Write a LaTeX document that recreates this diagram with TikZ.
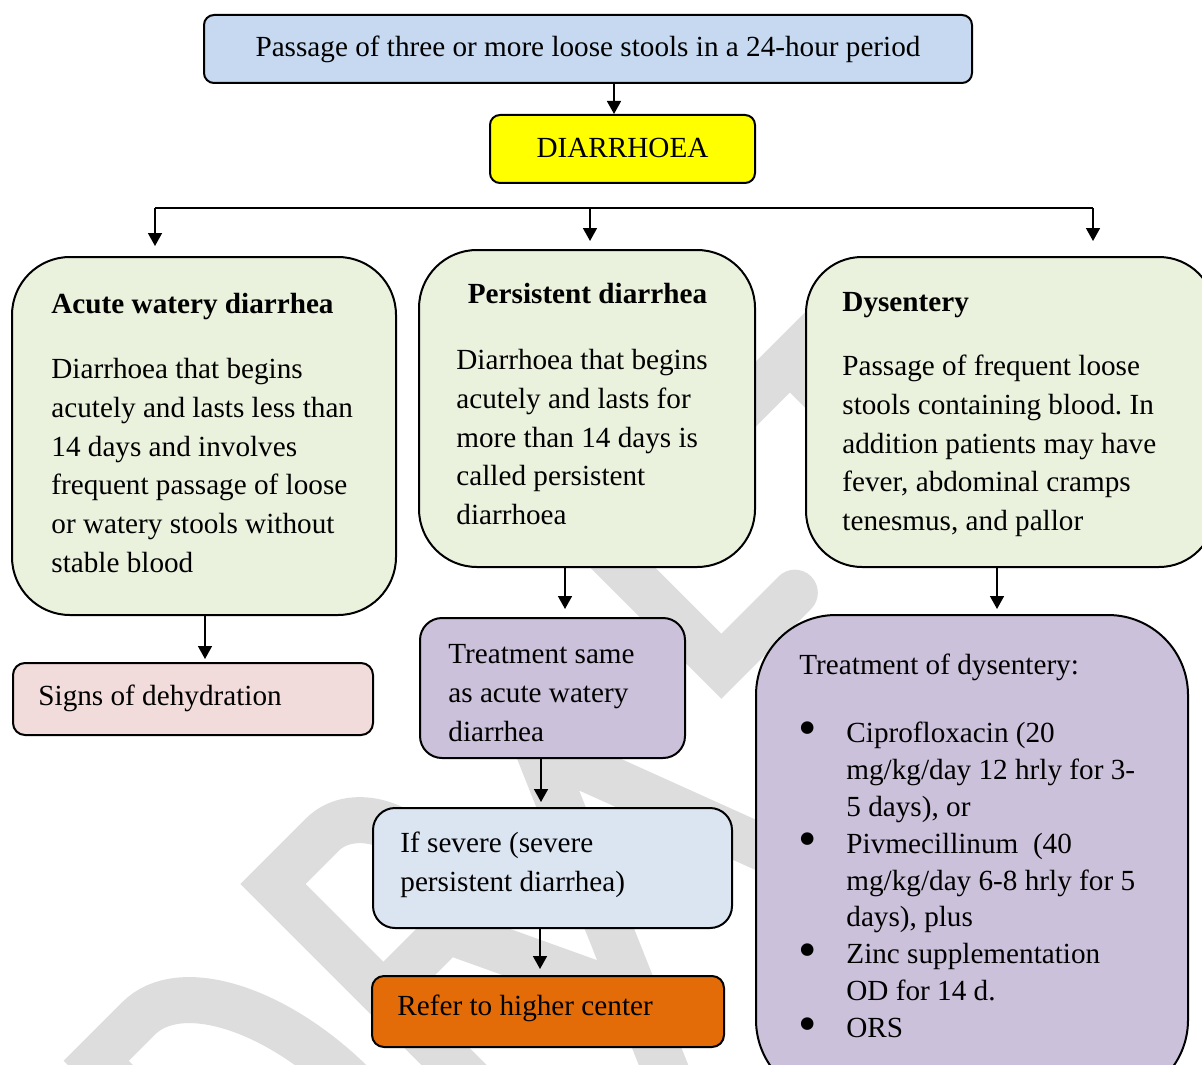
\documentclass[tikz,border=0pt]{standalone}
\usepackage{fontspec}
\setmainfont{Liberation Serif}
\usetikzlibrary{arrows.meta}
\frenchspacing

\definecolor{topblue}{HTML}{C6D9F1}
\definecolor{diaryellow}{HTML}{FFFF00}
\definecolor{olivebox}{HTML}{EAF1DD}
\definecolor{pinkbox}{HTML}{F2DCDB}
\definecolor{lilacbox}{HTML}{CCC1DA}
\definecolor{paleblue}{HTML}{DBE5F1}
\definecolor{orangebox}{HTML}{E36C09}
\definecolor{wmgray}{RGB}{221,221,221}

\newcommand{\rxbullet}{\makebox[24pt][l]{\raisebox{-0.12em}{\scalebox{1.8}{•}}}}
\newcommand{\rxhang}{\hspace*{24pt}}

\tikzset{
  box/.style={draw=black, line width=1pt, rectangle, inner sep=0pt},
  txt/.style={inner sep=0pt, anchor=north west, align=left,
              font=\fontsize{14.6}{19.4}\selectfont},
  line/.style={inner sep=0pt, font=\fontsize{14.6}{19.4}\selectfont},
  arr/.style={line width=0.8pt, -{Triangle[length=6.5pt,width=7pt]}},
  bus/.style={line width=0.8pt},
  wm/.style={draw=wmgray, line width=23pt, line join=miter, miter limit=10}
}

\begin{document}
\begin{tikzpicture}[x=0.5pt,y=-0.5pt]
\useasboundingbox (0,0) rectangle (1202,1064);
\clip (0,0) rectangle (1202,1064);
\fill[white] (0,0) rectangle (1202,1064);

% diagonal watermark strokes, drawn in a letter frame tilted by 45 degrees
\begin{scope}[shift={(273,884)}, x={(0.35355pt,0.35355pt)}, y={(0.35355pt,-0.35355pt)}]
  \draw[wm] (-250,430) -- (-250,0) -- (-190,0)
        .. controls (-132,0) and (-85,90) .. (-85,200)
        .. controls (-85,310) and (-132,400) .. (-190,400) -- (-250,400);
  \draw[wm] (0,430) -- (0,0) -- (70,0)
        .. controls (103,0) and (130,35) .. (130,78)
        .. controls (130,121) and (103,156) .. (70,156) -- (0,156);
  \draw[wm] (90,156) -- (205,400);
  \draw[wm] (137,430) -- (284,89) -- (413,430);
  \draw[wm, line cap=round] (471,-23) -- (471,163) -- (575,163);
  \draw[wm] (630,-5) -- (850,-5);
  \draw[wm] (736,-5) -- (736,150);
\end{scope}

% boxes
\node[box, fill=topblue, rounded corners=5pt, minimum width=384pt, minimum height=34pt] (top) at (588,49) {};
\node[box, fill=diaryellow, rounded corners=5pt, minimum width=132.5pt, minimum height=34pt] (diar) at (622.5,149) {};
\node[box, fill=olivebox, rounded corners=29pt, minimum width=192pt, minimum height=179pt] (acute) at (204,436) {};
\node[box, fill=olivebox, rounded corners=29pt, minimum width=168pt, minimum height=158.5pt] (persist) at (587,408.5) {};
\node[box, fill=olivebox, rounded corners=28pt, minimum width=204.5pt, minimum height=155pt] (dys) at (1010.5,412) {};
\node[box, fill=pinkbox, rounded corners=6pt, minimum width=180pt, minimum height=36pt] (signs) at (193,699) {};
\node[box, fill=lilacbox, rounded corners=11pt, minimum width=132.5pt, minimum height=70pt] (same) at (552.5,688) {};
\node[box, fill=paleblue, rounded corners=11pt, minimum width=179.5pt, minimum height=60pt] (severe) at (552.5,868) {};
\node[box, fill=orangebox, rounded corners=6pt, minimum width=176pt, minimum height=35.5pt] (refer) at (548,1011.5) {};
\node[box, fill=lilacbox, rounded corners=40pt, minimum width=216pt, minimum height=242.5pt] (dysrx) at (972,857.5) {};

% texts
\node[line, anchor=base] (ttop) at (588,57) {Passage of three or more loose stools in a 24-hour period};
\node[line, anchor=base] (tdiar) at (622.5,158) {DIARRHOEA};

\node[line, anchor=base west] (tacuteh) at (51,313) {\textbf{Acute watery diarrhea}};
\node[txt] (tacute) at (51,350.84) {\strut Diarrhoea that begins\\acutely and lasts less than\\14 days and involves\\frequent passage of loose\\or watery stools without\\stable blood};

\node[line, anchor=base] (tpersisth) at (587.5,303) {\textbf{Persistent diarrhea}};
\node[txt] (tpersist) at (456,341.84) {\strut Diarrhoea that begins\\acutely and lasts for\\more than 14 days is\\called persistent\\diarrhoea};

\node[line, anchor=base west] (tdysh) at (842,311) {\textbf{Dysentery}};
\node[txt] (tdys) at (842,347.84) {\strut Passage of frequent loose\\stools containing blood. In\\addition patients may have\\fever, abdominal cramps\\tenesmus, and pallor};

\node[line, anchor=base west] (tsigns) at (38,705) {Signs of dehydration};
\node[txt] (tsame) at (448,635.84) {\strut Treatment same\\as acute watery\\diarrhea};
\node[txt] (tsevere) at (400,824.84) {\strut If severe (severe\\persistent diarrhea)};
\node[line, anchor=base west] (trefer) at (397,1015) {Refer to higher center};

\node[line, anchor=base west] (trxh) at (799,674) {Treatment of dysentery:};
\node[txt, font=\fontsize{14.6}{18.45}\selectfont] (trx) at (798,716.17)
  {\strut\rxbullet Ciprofloxacin (20\\
   \rxhang mg/kg/day 12 hrly for 3-\\
   \rxhang 5 days), or\\
   \rxbullet Pivmecillinum\ \ (40\\
   \rxhang mg/kg/day 6-8 hrly for 5\\
   \rxhang days), plus\\
   \rxbullet Zinc supplementation\\
   \rxhang OD for 14 d.\\
   \rxbullet ORS};

% connectors
\coordinate (busL) at (155,208);
\coordinate (busR) at (1093,208);
\draw[arr] ([xshift=13pt]top.south) -- ([xshift=-4.25pt]diar.north);
\draw[bus] (busL) -- (busR);
\draw[arr, shorten >=5pt] (busL) -- (busL |- acute.north);
\draw[arr, shorten >=4pt] ([xshift=1.5pt]persist.north |- busL) -- ([xshift=1.5pt]persist.north);
\draw[arr, shorten >=7.5pt] (busR) -- (busR |- dys.north);
\draw[arr, shorten >=1.5pt] ([xshift=0.5pt]acute.south) -- ([xshift=6pt]signs.north);
\draw[arr, shorten >=4pt] ([xshift=-11pt]persist.south) -- ([xshift=6.25pt]same.north);
\draw[arr, shorten >=2.5pt] ([xshift=-5.75pt]same.south) -- ([xshift=-5.75pt]severe.north);
\draw[arr, shorten >=3pt] ([xshift=-6.25pt]severe.south) -- ([xshift=-4pt]refer.north);
\draw[arr, shorten >=2.5pt] ([xshift=-6.75pt]dys.south) -- ([xshift=12.5pt]dysrx.north);
\end{tikzpicture}
\end{document}
